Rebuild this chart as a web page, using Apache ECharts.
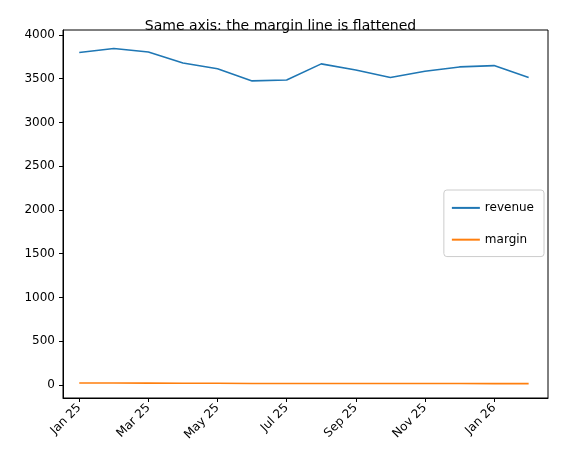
<!DOCTYPE html><html><head><script src="https://cdn.jsdelivr.net/npm/echarts@6/dist/echarts.min.js"></script></head><body style="margin:0"><div id="c" style="width:561px;height:466px"></div><script>
const months=["Jan 25","Feb 25","Mar 25","Apr 25","May 25","Jun 25","Jul 25","Aug 25","Sep 25","Oct 25","Nov 25","Dec 25","Jan 26","Feb 26"];
const revenue=[3800,3845,3805,3680,3615,3475,3485,3670,3600,3515,3585,3635,3650,3515];
const margin=[22,22,21,20,19,17,16,16,16,16,16,16,15,15];
const ticks=[0,2,4,6,8,10,12];
const yticks=[0,500,1000,1500,2000,2500,3000,3500,4000];
const c=echarts.init(document.getElementById('c'));
const f="DejaVu Sans";
c.setOption({animation:false,
title:{text:"Same axis: the margin line is flattened",left:'center',top:7,textStyle:{fontFamily:f,fontSize:14,fontWeight:'normal',color:'#000'}},
legend:{right:17,top:190,orient:'vertical',itemWidth:28,itemHeight:2,itemGap:8,icon:'rect',borderColor:'#ccc',borderWidth:1,borderRadius:3,padding:[6,10,5,8],textStyle:{fontFamily:f,fontSize:12,color:'#000'},data:['revenue','margin']},
grid:{left:63,right:13,top:30,bottom:68},
xAxis:{type:'value',min:-0.47,max:13.56,axisLine:{onZero:false,lineStyle:{color:'#000'}},splitLine:{show:false},
 axisTick:{customValues:ticks,length:4,lineStyle:{color:'#000'}},
 axisLabel:{customValues:ticks,rotate:45,formatter:v=>months[v],fontFamily:f,fontSize:12,color:'#000',margin:8}},
yAxis:{type:'value',min:-149,max:4057,axisLine:{show:true,onZero:false,lineStyle:{color:'#000'}},splitLine:{show:false},
 axisTick:{show:true,customValues:yticks,length:4,lineStyle:{color:'#000'}},
 axisLabel:{customValues:yticks,formatter:v=>String(v),fontFamily:f,fontSize:12,color:'#000'}},
graphic:[{type:'rect',shape:{x:63,y:30,width:485,height:368},style:{fill:'none',stroke:'#000',lineWidth:1},silent:true}],
series:[{name:'revenue',type:'line',showSymbol:false,data:revenue.map((v,i)=>[i,v]),lineStyle:{width:1.6,color:'#1f77b4'},itemStyle:{color:'#1f77b4'}},
{name:'margin',type:'line',showSymbol:false,data:margin.map((v,i)=>[i,v]),lineStyle:{width:1.6,color:'#ff7f0e'},itemStyle:{color:'#ff7f0e'}}]});
</script></body></html>
